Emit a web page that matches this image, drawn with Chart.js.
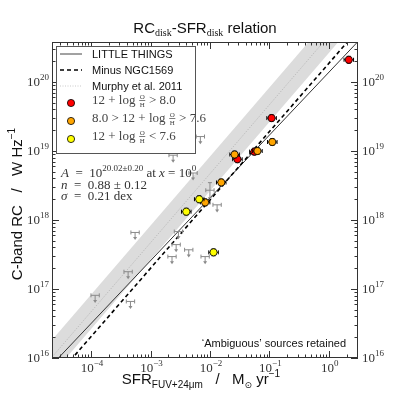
<!DOCTYPE html>
<html>
<head>
<meta charset="utf-8">
<script src="https://cdn.jsdelivr.net/npm/chart.js@4.4.1/dist/chart.umd.min.js"></script>
<style>
  html, body { margin: 0; padding: 0; background: #fff; }
</style>
</head>
<body>
<canvas id="rcChart" width="399" height="399"></canvas>
<script>
// axis limits
const xRange = [2.2e-5, 3.1];
const yRange = [1e16, 3.8e20];

// 12 + log(O/H) > 8.0
const redX = [2.17, 0.109, 0.029, 0.056];
const redY = [2.1e20, 3.0e19, 7.6e18, 9.8e18];
// 8.0 > 12 + log(O/H) > 7.6
const orangeX = [0.026, 0.063, 0.112, 0.0155, 0.0083];
const orangeY = [8.9e18, 1.0e19, 1.35e19, 3.5e18, 1.8e18];
// 12 + log(O/H) < 7.6
const yellowX = [0.0066, 0.0040, 0.0115];
const yellowY = [2.0e18, 1.32e18, 3.4e17];

// grey upper limits
const upperX = [0.0069, 0.0024, 0.0052, 0.0132, 0.00295, 0.0027, 0.0044, 0.0023, 0.0083, 0.00055, 0.00042, 0.000117, 0.00046];
const upperY = [1.62e19, 8.7e18, 4.8e18, 1.66e18, 6.8e17, 4.4e17, 3.7e17, 2.95e17, 2.95e17, 6.6e17, 1.78e17, 8.1e16, 6.6e16];
// grey detection without marker
const crossX = [0.0100];
const crossY = [2.7e18];

// fits: log L = a + n log SFR
const fitLittleThings = [20.14, 0.91];
const fitMinusNGC1569 = [20.27, 0.99];
const fitMurphy = [20.67, 1.0];
const murphyWidth = 0.25;

// tick labels (exponents)
const xTickExp = ['−4', '−3', '−2', '−1', '0'];
const xTickVal = [1e-4, 1e-3, 1e-2, 1e-1, 1];
const yTickExp = ['16', '17', '18', '19', '20'];
const yTickVal = [1e16, 1e17, 1e18, 1e19, 1e20];

const toPts = (xs, ys) => xs.map((x, i) => ({ x: x, y: ys[i] }));
function fitLine(a, n) {
  return xRange.map(x => ({ x: x, y: Math.pow(10, a + n * Math.log10(x)) }));
}

const SERIF = '"Liberation Serif", "DejaVu Serif", serif';
const SANS = '"Liberation Sans", Arial, sans-serif';

// draw text pieces side by side: [text, font, dy]
function rich(ctx, parts, x, y, align) {
  let w = 0;
  parts.forEach(p => {
    if (Array.isArray(p[0])) {
      ctx.font = p[1];
      p.w = Math.max(ctx.measureText(p[0][0]).width, ctx.measureText(p[0][1]).width) + 2;
    } else {
      ctx.font = p[1];
      p.w = ctx.measureText(p[0]).width;
    }
    w += p.w;
  });
  let cx = align === 'center' ? x - w / 2 : align === 'right' ? x - w : x;
  ctx.textAlign = 'left';
  parts.forEach(p => {
    ctx.font = p[1];
    if (Array.isArray(p[0])) {
      // small fraction
      const mid = cx + p.w / 2;
      ctx.textAlign = 'center';
      ctx.fillText(p[0][0], mid, y - 5);
      ctx.fillText(p[0][1], mid, y + 3);
      ctx.fillRect(cx + 0.5, y - 4, p.w - 1, 0.7);
      ctx.textAlign = 'left';
    } else {
      ctx.fillText(p[0], cx, y + (p[2] || 0));
    }
    cx += p.w;
  });
  return w;
}

function logTicks(min, max) {
  const out = [];
  for (let d = Math.floor(Math.log10(min)); d <= Math.ceil(Math.log10(max)); d++) {
    for (let m = 1; m < 10; m++) {
      const v = m * Math.pow(10, d);
      if (v >= min * 0.999 && v <= max * 1.001) out.push({ v: v, major: m === 1 });
    }
  }
  return out;
}

// error bars, upper limits, frame, ticks and text
const decorPlugin = {
  id: 'decor',
  beforeDatasetDraw(chart, args) {
    const ds = chart.data.datasets[args.index];
    if (!ds.errBars) return;
    const xs = chart.scales.x, ys = chart.scales.y, ctx = chart.ctx;
    ctx.save();
    ctx.strokeStyle = ds.errColor || '#000';
    ctx.lineWidth = 1;
    ds.data.forEach(p => {
      const px = xs.getPixelForValue(p.x), py = ys.getPixelForValue(p.y);
      const x0 = xs.getPixelForValue(p.x / Math.pow(10, ds.errX));
      const x1 = xs.getPixelForValue(p.x * Math.pow(10, ds.errX));
      const y0 = ys.getPixelForValue(p.y / Math.pow(10, ds.errY));
      const y1 = ys.getPixelForValue(p.y * Math.pow(10, ds.errY));
      ctx.beginPath();
      ctx.moveTo(x0, py); ctx.lineTo(x1, py);
      ctx.moveTo(x0, py - 2); ctx.lineTo(x0, py + 2);
      ctx.moveTo(x1, py - 2); ctx.lineTo(x1, py + 2);
      ctx.moveTo(px, y0); ctx.lineTo(px, y1);
      ctx.moveTo(px - 2, y0); ctx.lineTo(px + 2, y0);
      ctx.moveTo(px - 2, y1); ctx.lineTo(px + 2, y1);
      ctx.stroke();
    });
    ctx.restore();
  },
  afterDatasetDraw(chart, args) {
    const ds = chart.data.datasets[args.index];
    if (!ds.upperLimit) return;
    const xs = chart.scales.x, ys = chart.scales.y, ctx = chart.ctx;
    ctx.save();
    ctx.strokeStyle = '#8a8a8a';
    ctx.fillStyle = '#8a8a8a';
    ctx.lineWidth = 1;
    ds.data.forEach(p => {
      const px = xs.getPixelForValue(p.x), py = ys.getPixelForValue(p.y);
      const x0 = xs.getPixelForValue(p.x / Math.pow(10, 0.07));
      const x1 = xs.getPixelForValue(p.x * Math.pow(10, 0.07));
      const yEnd = ys.getPixelForValue(p.y / Math.pow(10, 0.11));
      ctx.beginPath();
      ctx.moveTo(x0, py); ctx.lineTo(x1, py);
      ctx.moveTo(x0, py - 2); ctx.lineTo(x0, py + 2);
      ctx.moveTo(x1, py - 2); ctx.lineTo(x1, py + 2);
      ctx.moveTo(px, py); ctx.lineTo(px, yEnd - 2);
      ctx.stroke();
      ctx.beginPath();
      ctx.moveTo(px - 2, yEnd - 3); ctx.lineTo(px + 2, yEnd - 3); ctx.lineTo(px, yEnd);
      ctx.closePath();
      ctx.fill();
    });
    ctx.restore();
  },
  afterDraw(chart) {
    const ctx = chart.ctx, a = chart.chartArea;
    const xs = chart.scales.x, ys = chart.scales.y;
    ctx.save();

    // frame
    ctx.strokeStyle = '#333';
    ctx.lineWidth = 1;
    ctx.strokeRect(a.left + 0.5, a.top + 0.5, a.right - a.left - 1, a.bottom - a.top - 1);

    // inward ticks
    ctx.beginPath();
    logTicks(xRange[0], xRange[1]).forEach(t => {
      const px = Math.round(xs.getPixelForValue(t.v)) + 0.5, len = t.major ? 7 : 3.5;
      ctx.moveTo(px, a.bottom); ctx.lineTo(px, a.bottom - len);
      ctx.moveTo(px, a.top); ctx.lineTo(px, a.top + len);
    });
    logTicks(yRange[0], yRange[1]).forEach(t => {
      const py = Math.round(ys.getPixelForValue(t.v)) + 0.5, len = t.major ? 7 : 3.5;
      ctx.moveTo(a.left, py); ctx.lineTo(a.left + len, py);
      ctx.moveTo(a.right, py); ctx.lineTo(a.right - len, py);
    });
    ctx.stroke();

    // tick labels
    ctx.fillStyle = '#333';
    ctx.textBaseline = 'alphabetic';
    xTickVal.forEach((v, i) => {
      rich(ctx, [['10', '13px ' + SERIF], [xTickExp[i], '9px ' + SERIF, -6]],
        xs.getPixelForValue(v) + 1, a.bottom + 14, 'center');
    });
    yTickVal.forEach((v, i) => {
      const py = ys.getPixelForValue(v) + 4;
      rich(ctx, [['10', '13px ' + SERIF], [yTickExp[i], '9px ' + SERIF, -6]], a.left - 3, py, 'right');
      rich(ctx, [['10', '13px ' + SERIF], [yTickExp[i], '9px ' + SERIF, -6]], a.right + 4, py, 'left');
    });

    // title
    ctx.fillStyle = '#111';
    rich(ctx, [
      ['RC', '15px ' + SANS], ['disk', '10px ' + SERIF, 3],
      ['-SFR', '15px ' + SANS], ['disk', '10px ' + SERIF, 3],
      [' relation', '15px ' + SANS]
    ], (a.left + a.right) / 2, 33, 'center');

    // x axis title
    rich(ctx, [
      ['SFR', '15px ' + SANS], ['FUV+24\u03bcm', '10px ' + SANS, 4],
      ['   /   M', '15px ' + SANS], ['\u2299', '9px ' + 'DejaVu Sans', 4],
      [' yr', '15px ' + SANS], ['\u22121', '10px ' + SANS, -7]
    ], 201, 384, 'center');

    // y axis title
    ctx.save();
    ctx.translate(22, (a.top + a.bottom) / 2 + 4);
    ctx.rotate(-Math.PI / 2);
    rich(ctx, [['C-band RC   /   W Hz', '15px ' + SANS], ['\u22121', '10px ' + SANS, -7]], 0, 0, 'center');
    ctx.restore();

    // fit annotation
    ctx.fillStyle = '#333';
    const it = 'italic 13px ' + SERIF, rm = '13px ' + SERIF;
    rich(ctx, [['A', it], ['  =  10', rm], ['20.02\u00b10.20', '9px ' + SERIF, -6], [' at ', rm], ['x', it], [' = 10', rm], ['0', '9px ' + SERIF, -6]], 61, 177, 'left');
    rich(ctx, [['n', it], ['  =  0.88 \u00b1 0.12', rm]], 61, 189, 'left');
    rich(ctx, [['\u03c3', it], ['  =  0.21 dex', rm]], 61, 200, 'left');

    // note
    ctx.fillStyle = '#111';
    rich(ctx, [['\u2018Ambiguous\u2019 sources retained', '11px ' + SANS]], a.right - 12, 347, 'right');

    // legend
    const lx = 56, ly = 46, lw = 139, lh = 107;
    ctx.fillStyle = '#fff';
    ctx.fillRect(lx, ly, lw, lh);
    ctx.strokeStyle = '#555';
    ctx.lineWidth = 1;
    ctx.strokeRect(lx + 0.5, ly + 0.5, lw, lh);

    const rows = [54, 70, 86, 102, 120, 138];
    ctx.lineWidth = 1;
    ctx.strokeStyle = '#444';
    ctx.beginPath(); ctx.moveTo(60, rows[0]); ctx.lineTo(82, rows[0]); ctx.stroke();
    ctx.strokeStyle = '#000';
    ctx.lineWidth = 1.6;
    ctx.setLineDash([4, 3]);
    ctx.beginPath(); ctx.moveTo(60, rows[1]); ctx.lineTo(82, rows[1]); ctx.stroke();
    ctx.strokeStyle = '#bbb';
    ctx.lineWidth = 0.8;
    ctx.setLineDash([1, 1.5]);
    ctx.beginPath(); ctx.moveTo(60, rows[2]); ctx.lineTo(82, rows[2]); ctx.stroke();
    ctx.setLineDash([]);

    ctx.fillStyle = '#111';
    ['LITTLE THINGS', 'Minus NGC1569', 'Murphy et al. 2011'].forEach((t, i) => {
      rich(ctx, [[t, '11px ' + SANS]], 92, rows[i] + 4, 'left');
    });

    const mcol = ['#ff0000', '#ffa500', '#ffff00'];
    const mtxt = [
      [['12 + log ', rm], [['O', 'H'], '7px ' + SERIF], [' > 8.0', rm]],
      [['8.0 > 12 + log ', rm], [['O', 'H'], '7px ' + SERIF], [' > 7.6', rm]],
      [['12 + log ', rm], [['O', 'H'], '7px ' + SERIF], [' < 7.6', rm]]
    ];
    mcol.forEach((c, i) => {
      const y = rows[3 + i];
      ctx.fillStyle = c;
      ctx.strokeStyle = '#000';
      ctx.lineWidth = 0.8;
      ctx.beginPath(); ctx.arc(71, y + 1, 3.6, 0, Math.PI * 2); ctx.fill(); ctx.stroke();
      ctx.fillStyle = '#444';
      rich(ctx, mtxt[i], 92, y + 2, 'left');
    });

    ctx.restore();
  }
};

const markerStyle = { type: 'scatter', pointRadius: 3.6, pointBorderColor: '#000', pointBorderWidth: 0.8, errBars: true, errX: 0.08, errY: 0.05, showLine: false };

const ctx = document.getElementById('rcChart').getContext('2d');
const rcChart = new Chart(ctx, {
  type: 'scatter',
  data: {
    datasets: [
      Object.assign({ data: toPts(yellowX, yellowY), pointBackgroundColor: '#ffff00', order: 1 }, markerStyle),
      Object.assign({ data: toPts(orangeX, orangeY), pointBackgroundColor: '#ffa500', order: 2 }, markerStyle),
      Object.assign({ data: toPts(redX, redY), pointBackgroundColor: '#ff0000', order: 3 }, markerStyle),
      { type: 'scatter', data: toPts(crossX, crossY), pointRadius: 0, errBars: true, errX: 0.07, errY: 0.11, errColor: '#8a8a8a', order: 4 },
      { type: 'scatter', data: toPts(upperX, upperY), pointRadius: 0, upperLimit: true, order: 5 },
      { type: 'line', data: fitLine(fitMinusNGC1569[0], fitMinusNGC1569[1]), borderColor: '#000', borderWidth: 1.6, borderDash: [4, 3], pointRadius: 0, fill: false, order: 6 },
      { type: 'line', data: fitLine(fitLittleThings[0], fitLittleThings[1]), borderColor: '#333', borderWidth: 1, pointRadius: 0, fill: false, order: 7 },
      { type: 'line', data: fitLine(fitMurphy[0], fitMurphy[1]), borderColor: '#aaa', borderWidth: 0.8, borderDash: [1, 1.5], pointRadius: 0, fill: false, order: 8 },
      { type: 'line', data: fitLine(fitMurphy[0] + murphyWidth, fitMurphy[1]), borderWidth: 0, pointRadius: 0, fill: false, order: 9 },
      { type: 'line', data: fitLine(fitMurphy[0] - murphyWidth, fitMurphy[1]), borderWidth: 0, pointRadius: 0, fill: '-1', backgroundColor: '#dcdcdc', order: 10 }
    ]
  },
  options: {
    responsive: false,
    animation: false,
    devicePixelRatio: 1,
    layout: { padding: { left: 52, right: 41, top: 42, bottom: 41 } },
    scales: {
      x: { type: 'logarithmic', min: xRange[0], max: xRange[1], display: false },
      y: { type: 'logarithmic', min: yRange[0], max: yRange[1], display: false }
    },
    plugins: {
      legend: { display: false },
      tooltip: { enabled: false }
    }
  },
  plugins: [decorPlugin]
});
</script>
</body>
</html>
